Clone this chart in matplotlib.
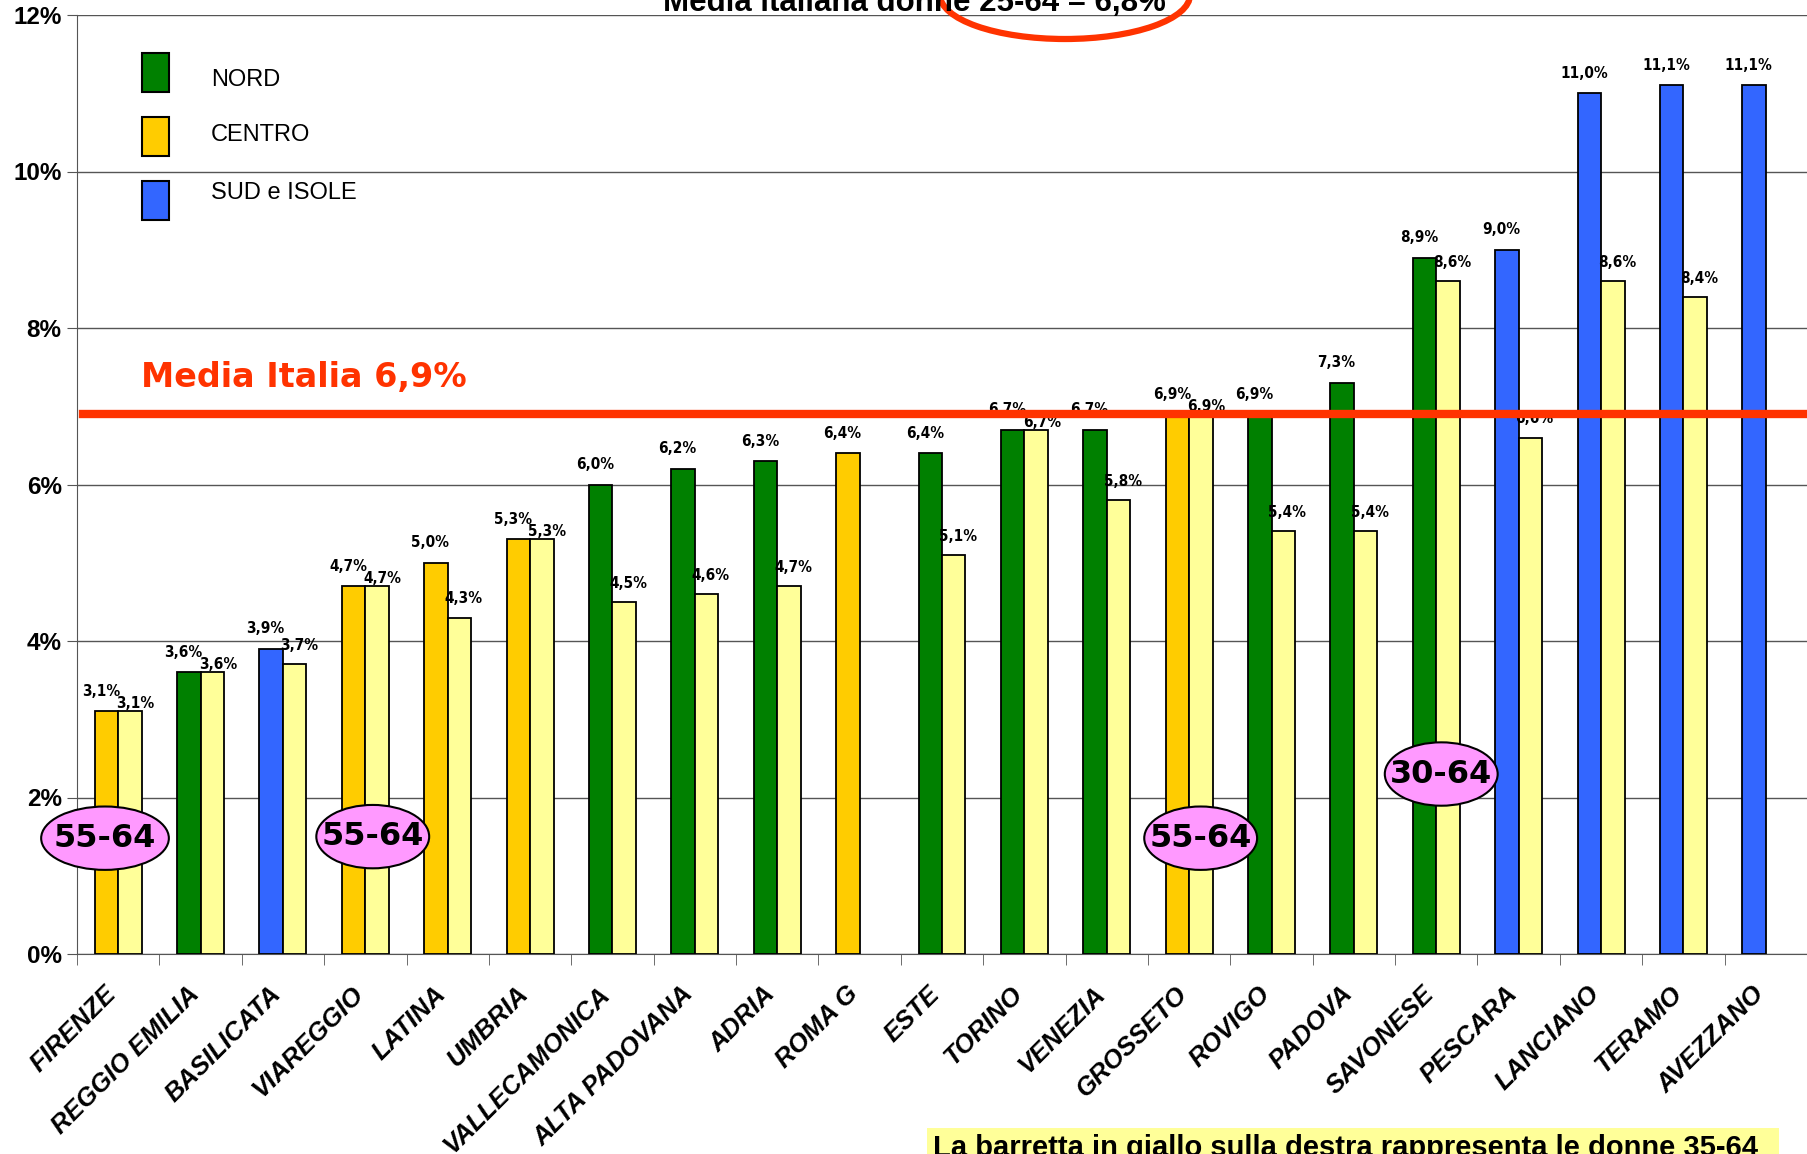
import matplotlib
matplotlib.use('Agg')
import matplotlib.pyplot as plt
from matplotlib import font_manager
from matplotlib.patches import Ellipse, Rectangle
from matplotlib.transforms import ScaledTranslation
import numpy as np

# data (tasso %)
categories = ['FIRENZE', 'REGGIO EMILIA', 'BASILICATA', 'VIAREGGIO', 'LATINA', 'UMBRIA',
              'VALLECAMONICA', 'ALTA PADOVANA', 'ADRIA', 'ROMA G', 'ESTE', 'TORINO',
              'VENEZIA', 'GROSSETO', 'ROVIGO', 'PADOVA', 'SAVONESE', 'PESCARA',
              'LANCIANO', 'TERAMO', 'AVEZZANO']
area = ['C', 'N', 'S', 'C', 'C', 'C', 'N', 'N', 'N', 'C', 'N', 'N',
        'N', 'C', 'N', 'N', 'N', 'S', 'S', 'S', 'S']
main_values = [3.1, 3.6, 3.9, 4.7, 5.0, 5.3, 6.0, 6.2, 6.3, 6.4, 6.4, 6.7,
               6.7, 6.9, 6.9, 7.3, 8.9, 9.0, 11.0, 11.1, 11.1]
women_35_64 = [3.1, 3.6, 3.7, 4.7, 4.3, 5.3, 4.5, 4.6, 4.7, np.nan, 5.1, 6.7,
               5.8, 6.9, 5.4, 5.4, 8.6, 6.6, 8.6, 8.4, np.nan]
media_italia = 6.9
legend_names = ['NORD', 'CENTRO', 'SUD e ISOLE']
# age-range notes: (category, label)
age_notes = [('FIRENZE', '55-64'), ('VIAREGGIO', '55-64'),
             ('GROSSETO', '55-64'), ('SAVONESE', '30-64')]

colors = {'N': '#008000', 'C': '#FFCC00', 'S': '#3366FF'}
pale = '#FFFF99'
red = '#FF3300'

W, H = 1807, 1154
def fx(px):
    return px / W
def fy(py):
    return 1 - py / H

names = {f.name for f in font_manager.fontManager.ttflist}
if 'Liberation Sans Narrow' in names:
    narrow = dict(family='Liberation Sans Narrow', fontsize=14)
else:
    narrow = dict(family='DejaVu Sans', fontstretch='condensed', fontsize=11)

plt.rcParams['font.family'] = ['Liberation Sans', 'DejaVu Sans']

fig = plt.figure(figsize=(W / 100, H / 100), dpi=100)
ax = fig.add_axes([fx(77), 200 / H, (W - 77) / W, 939 / H])

x = np.arange(len(categories))
bw = 0.285
main_colors = [colors[a] for a in area]
ax.bar(x - bw / 2, main_values, bw, color=main_colors, edgecolor='black', linewidth=1.3, zorder=3)
ax.bar(x + bw / 2, women_35_64, bw, color=pale, edgecolor='black', linewidth=1.3, zorder=3)

for i in range(len(categories)):
    ax.annotate('{:.1f}%'.format(main_values[i]).replace('.', ','),
                (x[i] - bw / 2, main_values[i]), xytext=(-4, 9), textcoords='offset points',
                ha='center', va='bottom', weight='bold', zorder=4, **narrow)
    v = women_35_64[i]
    if np.isnan(v):
        continue
    if v == main_values[i]:
        off = (4, 0)
    else:
        off = (3, 8)
    ax.annotate('{:.1f}%'.format(v).replace('.', ','),
                (x[i] + bw / 2, v), xytext=off, textcoords='offset points',
                ha='center', va='bottom', weight='bold', zorder=4, **narrow)

ax.axhline(media_italia, xmin=6 / 1730, color=red, linewidth=6, zorder=5)

ax.set_xlim(-0.5, len(categories) - 0.5)
ax.set_ylim(0, 12)
ax.set_yticks(np.arange(0, 13, 2))
ax.set_yticklabels(['{}%'.format(t) for t in range(0, 13, 2)], fontsize=17.5, weight='bold')
ax.yaxis.grid(True, color='#555555', linewidth=1)
ax.set_axisbelow(True)
ax.tick_params(axis='y', length=7, color='#555555', pad=4)

ax.set_xticks(x)
ax.set_xticklabels(categories, rotation=45, ha='right', va='top', rotation_mode='anchor',
                   fontsize=18.5, weight='bold', style='italic')
ax.tick_params(axis='x', which='major', length=0, pad=20)
shift_left = ScaledTranslation(-0.14, 0, fig.dpi_scale_trans)
for lab in ax.get_xticklabels():
    lab.set_transform(lab.get_transform() + shift_left)
ax.set_xticks(np.arange(-0.5, len(categories), 1), minor=True)
ax.tick_params(axis='x', which='minor', length=8, color='#555555')

for side in ['top', 'right']:
    ax.spines[side].set_visible(False)
ax.spines['left'].set_color('#555555')
ax.spines['bottom'].set_color('#555555')

# age-range ellipses
shift = {'FIRENZE': -0.16, 'VIAREGGIO': 0.09, 'GROSSETO': 0.14, 'SAVONESE': 0.06}
level = {'FIRENZE': 1.48, 'VIAREGGIO': 1.5, 'GROSSETO': 1.48, 'SAVONESE': 2.3}
for cat, lab in age_notes:
    cx = categories.index(cat) + shift[cat]
    cy = level[cat]
    w = 1.55 if cat == 'FIRENZE' else 1.37
    ax.add_patch(Ellipse((cx, cy), w, 0.81, facecolor='#FF99FF', edgecolor='black',
                         linewidth=1.5, zorder=6, clip_on=False))
    ax.text(cx, cy, lab, ha='center', va='center', fontsize=23, weight='bold',
            family='DejaVu Sans', zorder=7, clip_on=False)

# legend
for k, (name, c) in enumerate(zip(legend_names, ['N', 'C', 'S'])):
    top = [53, 117, 181][k]
    fig.add_artist(Rectangle((fx(142), fy(top + 39)), 27 / W, 39 / H, transform=fig.transFigure,
                             facecolor=colors[c], edgecolor='black', linewidth=1.5))
    fig.text(fx(211), fy([80, 135, 193][k]), name, fontsize=17, va='center', ha='left')

fig.text(fx(141), fy(387), 'Media Italia 6,9%', color=red, fontsize=24, weight='bold',
         family='DejaVu Sans', va='baseline', ha='left')

# clipped title with red ellipse
fig.text(fx(914), fy(11), 'Media italiana donne 25-64 = 6,8%', fontsize=22.5, weight='bold',
         ha='center', va='baseline')
fig.add_artist(Ellipse((fx(1065), fy(-5)), 250 / W, 88 / H, transform=fig.transFigure,
                       fill=False, edgecolor=red, linewidth=4.5))

# bottom note
fig.add_artist(Rectangle((fx(927), 0), (1779 - 927) / W, (H - 1128) / H, transform=fig.transFigure,
                         facecolor=pale, edgecolor='none'))
fig.text(fx(933), fy(1134), 'La barretta in giallo sulla destra rappresenta le donne 35-64',
         fontsize=21, weight='bold', ha='left', va='top')

fig.savefig('out.png', dpi=100)
